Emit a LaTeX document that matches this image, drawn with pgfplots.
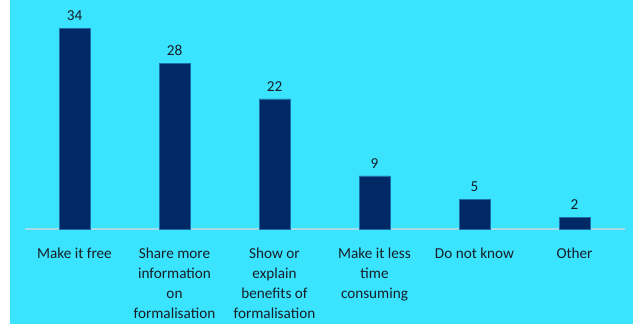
\documentclass[border=0pt]{standalone}
\usepackage{pgfplots}
\pgfplotsset{compat=1.18}
\usepackage{fontspec}
\setmainfont{Carlito}
\definecolor{bg}{RGB}{58,228,254}
\definecolor{bar}{RGB}{0,41,102}
\definecolor{barEdge}{RGB}{30,110,170}
\definecolor{axline}{RGB}{165,218,232}
\definecolor{txt}{RGB}{25,30,40}
\begin{document}
\begin{tikzpicture}[x=1pt,y=1pt]
\fill[white] (0,0) rectangle (633,324);
\fill[bg] (10,0) rectangle (633,324);
\begin{axis}[
  at={(24.5pt,95pt)}, anchor=south west,
  scale only axis, width=600pt, height=229pt,
  xmin=-0.5, xmax=5.5, ymin=0, ymax=38.75,
  axis x line=bottom, axis y line=none,
  x axis line style={axline, line width=1.5pt, -},
  ytick=\empty,
  xtick=data, major tick length=0pt,
  xticklabels={{Make it free},{Share more\\information\\on\\formalisation},{Show or\\explain\\benefits of\\formalisation},{Make it less\\time\\consuming},{Do not know},{Other}},
  xticklabel style={align=center, font=\fontsize{15.2}{20}\selectfont, text=txt, anchor=north, yshift=-15pt},
  ybar, bar width=31pt,
  clip=false,
  nodes near coords,
  nodes near coords style={font=\fontsize{15.2}{17}\selectfont, text=txt, anchor=south, inner sep=0pt, yshift=7.5pt},
  /pgf/number format/assume math mode=true,
]
\addplot[fill=bar, draw=barEdge, line width=0.6pt] coordinates {(0,34) (1,28) (2,22) (3,9) (4,5) (5,2)};
\end{axis}
\end{tikzpicture}
\end{document}
